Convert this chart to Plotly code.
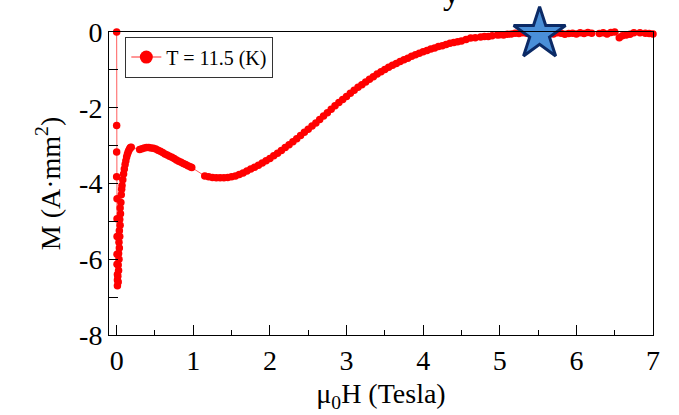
import plotly.graph_objects as go

# ---- data ----
field_T = [
    0, 0, 0, 0, 0.005, 0.005, 0.005, 0.005, 0.005, 0.01, 0.01, 0.01,
    0.02, 0.015, 0.025, 0.02, 0.03, 0.025, 0.035, 0.03, 0.04, 0.035, 0.045, 0.04,
    0.05, 0.045, 0.055, 0.06, 0.065, 0.07, 0.08, 0.09, 0.1, 0.11, 0.12, 0.13,
    0.14, 0.15, 0.16, 0.17, 0.18, 0.19,
    0.3, 0.33, 0.36, 0.39, 0.42, 0.45, 0.48, 0.51, 0.54, 0.57, 0.6, 0.63, 0.66,
    0.69, 0.72, 0.75, 0.78, 0.81, 0.84, 0.87, 0.9, 0.93, 0.96, 0.98,
    1.15, 1.2, 1.25, 1.3, 1.35, 1.4, 1.45, 1.5, 1.55, 1.6, 1.65, 1.7, 1.75,
    1.8, 1.85, 1.9, 1.95, 2.0, 2.05, 2.1, 2.15, 2.2, 2.25, 2.3, 2.35, 2.4,
    2.45, 2.5, 2.55, 2.6, 2.65, 2.7, 2.75, 2.8, 2.85, 2.9, 2.95, 3.0, 3.05,
    3.1, 3.15, 3.2, 3.25, 3.3, 3.35, 3.4, 3.45, 3.5, 3.55, 3.6, 3.65, 3.7,
    3.75, 3.8, 3.85, 3.9, 3.95, 4.0, 4.05, 4.1, 4.15, 4.2, 4.25, 4.3, 4.35,
    4.4, 4.45, 4.5, 4.56,
    4.62, 4.68, 4.75, 4.8, 4.85, 4.9, 4.97, 5.0, 5.05, 5.1, 5.15, 5.2, 5.25,
    5.3, 5.35, 5.4, 5.45, 5.5, 5.55, 5.6, 5.65, 5.7, 5.75, 5.8, 5.85, 5.9,
    5.95, 6.0, 6.05, 6.1, 6.15, 6.2, 6.25, 6.3, 6.35, 6.4, 6.45, 6.5, 6.53,
    6.56, 6.6, 6.65, 6.7, 6.75, 6.8, 6.83, 6.85, 6.9, 6.95, 7.0,
]
moment_Amm2 = [
    0, -2.47, -3.17, -3.82, -4.4, -4.93, -5.4, -5.87, -6.13, -6.4, -6.55, -6.7,
    -6.6, -6.45, -6.3, -6.15, -6.0, -5.85, -5.7, -5.55, -5.4, -5.25, -5.1, -4.95,
    -4.8, -4.65, -4.5, -4.3, -4.15, -4.05, -3.9, -3.75, -3.62, -3.5, -3.4, -3.3,
    -3.23, -3.17, -3.12, -3.08, -3.05, -3.04,
    -3.1, -3.08, -3.06, -3.05, -3.05, -3.06, -3.07, -3.09, -3.12, -3.15, -3.18,
    -3.22, -3.25, -3.28, -3.31, -3.34, -3.38, -3.41, -3.44, -3.47, -3.5, -3.53,
    -3.56, -3.58,
    -3.8, -3.82, -3.84, -3.85, -3.85, -3.85, -3.84, -3.82, -3.8, -3.76, -3.72,
    -3.67, -3.62, -3.57, -3.52, -3.46, -3.4, -3.34, -3.27, -3.2, -3.13, -3.05,
    -2.98, -2.9, -2.82, -2.73, -2.65, -2.57, -2.48, -2.4, -2.31, -2.22, -2.13,
    -2.04, -1.95, -1.86, -1.78, -1.7, -1.62, -1.54, -1.46, -1.39, -1.32, -1.25,
    -1.18, -1.11, -1.05, -0.99, -0.93, -0.88, -0.83, -0.78, -0.73, -0.69, -0.64,
    -0.6, -0.56, -0.52, -0.49, -0.45, -0.42, -0.38, -0.36, -0.33, -0.3, -0.28,
    -0.26, -0.24, -0.2,
    -0.16, -0.15, -0.13, -0.12, -0.12, -0.1, -0.08, -0.07, -0.08, -0.06, -0.05,
    -0.03, -0.04, -0.02, -0.03, -0.02, -0.01, -0.03, -0.02, -0.04, -0.03, -0.05,
    -0.02, -0.03, -0.06, -0.04, -0.03, -0.05, -0.02, -0.04, -0.01, -0.03, 0.02,
    -0.04, -0.02, -0.05, -0.01, 0.0, 0.13, -0.15, -0.1, -0.08, -0.06, -0.02,
    0.1, -0.02, 0.12, -0.03, -0.04, -0.05,
]
series_name = "T = 11.5 (K)"
star_field = [5.52]
star_moment = [-0.05]

x_ticks = [0, 1, 2, 3, 4, 5, 6, 7]
y_ticks = [0, -2, -4, -6, -8]
y_tick_labels = ["0", "-2", "-4", "-6", "-8"]

FONT = "Liberation Serif"

fig = go.Figure()
fig.add_trace(go.Scatter(
    x=field_T, y=moment_Amm2, mode="lines+markers",
    line=dict(color="rgba(255,40,40,0.75)", width=1),
    marker=dict(color="#ff0000", size=7.5, line=dict(width=0)),
    showlegend=False, cliponaxis=False,
))
# legend entry
fig.add_trace(go.Scatter(
    x=[None], y=[None], mode="lines+markers", name=series_name,
    line=dict(color="rgba(255,80,80,0.8)", width=1.5),
    marker=dict(color="#ff0000", size=13),
))
fig.add_trace(go.Scatter(
    x=star_field, y=star_moment, mode="markers",
    marker=dict(symbol="star", size=39, color="#4a8fd8",
                line=dict(color="#0b2a66", width=3)),
    showlegend=False, cliponaxis=False,
))

axis_common = dict(
    showgrid=False, zeroline=False, showline=True, linecolor="black",
    linewidth=1, mirror=True, ticks="inside", tickcolor="black",
    tickfont=dict(family=FONT, size=28, color="black"),
)
fig.update_xaxes(
    range=[-0.1, 7.0], tickvals=x_ticks, ticklen=10,
    minor=dict(dtick=0.5, ticks="inside", ticklen=5, tickcolor="black"),
    title=dict(text="μ<sub>0</sub>H (Tesla)", font=dict(family=FONT, size=28, color="black"), standoff=8),
    **axis_common,
)
fig.update_yaxes(
    range=[-8, 0], tickvals=y_ticks, ticktext=y_tick_labels, ticklen=9,
    minor=dict(dtick=1, ticks="inside", ticklen=9, tickcolor="black"),
    title=dict(text="M (A·mm<sup>2</sup>)", font=dict(family=FONT, size=28, color="black"), standoff=10),
    **axis_common,
)
fig.update_layout(
    width=679, height=415,
    margin=dict(l=109, r=26, t=32, b=75),
    paper_bgcolor="white", plot_bgcolor="white",
    font=dict(family=FONT, color="black"),
    showlegend=True,
    legend=dict(
        x=0.03, y=0.985, xanchor="left", yanchor="top",
        bgcolor="white", bordercolor="#333", borderwidth=1,
        font=dict(family=FONT, size=20, color="black"),
    ),
    annotations=[dict(
        text="y", xref="paper", yref="paper", x=0.63, y=1.0, yshift=60,
        xanchor="center", yanchor="top", showarrow=False,
        font=dict(family=FONT, size=34, color="black"),
    )],
)
fig.write_html("out.html")
